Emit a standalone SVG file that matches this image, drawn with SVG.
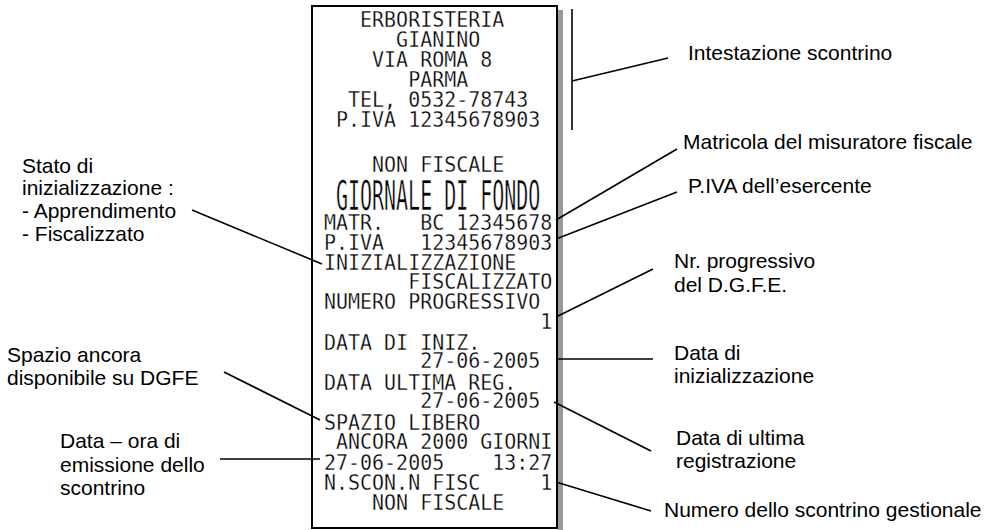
<svg xmlns="http://www.w3.org/2000/svg" width="998" height="530" viewBox="0 0 998 530">
<style>
.lbl{font-family:"Liberation Sans",Arial,sans-serif;font-size:21px;fill:#000}
.rc{font-family:"DejaVu Sans Mono","Liberation Mono",monospace;font-size:21px;fill:#000;white-space:pre;stroke:#fff;stroke-width:0.3}
.ln{stroke:#000;stroke-width:1.6;fill:none}
</style>
<rect width="998" height="530" fill="#fff"/>
<g id="receipt">
<rect x="558" y="10" width="5" height="522" fill="#999"/>
<rect x="312" y="6" width="245" height="522" fill="#fff" stroke="#000" stroke-width="2"/>
<g transform="translate(324,0) scale(0.951,1)">
<text class="rc" x="0" y="27">   ERBORISTERIA</text>
<text class="rc" x="0" y="47">      GIANINO</text>
<text class="rc" x="0" y="67">    VIA ROMA 8</text>
<text class="rc" x="0" y="87">       PARMA</text>
<text class="rc" x="0" y="107">  TEL, 0532-78743</text>
<text class="rc" x="0" y="127"> P.IVA 12345678903</text>
<text class="rc" x="0" y="172">    NON FISCALE</text>
<text class="rc" x="0" y="230">MATR.   BC 12345678</text>
<text class="rc" x="0" y="250">P.IVA   12345678903</text>
<text class="rc" x="0" y="270">INIZIALIZZAZIONE</text>
<text class="rc" x="0" y="289">       FISCALIZZATO</text>
<text class="rc" x="0" y="309">NUMERO PROGRESSIVO</text>
<text class="rc" x="0" y="329">                  1</text>
<text class="rc" x="0" y="350">DATA DI INIZ.</text>
<text class="rc" x="0" y="368">        27-06-2005</text>
<text class="rc" x="0" y="390">DATA ULTIMA REG.</text>
<text class="rc" x="0" y="408">        27-06-2005</text>
<text class="rc" x="0" y="430">SPAZIO LIBERO</text>
<text class="rc" x="0" y="449"> ANCORA 2000 GIORNI</text>
<text class="rc" x="0" y="470">27-06-2005    13:27</text>
<text class="rc" x="0" y="490">N.SCON.N FISC     1</text>
<text class="rc" x="0" y="510">    NON FISCALE</text>
</g>
<text class="rc" transform="translate(336,210) scale(0.951,1.95)" x="0" y="0">GIORNALE DI FONDO</text>
</g>
<g id="connectors">
<line class="ln" x1="572" y1="9" x2="572" y2="130"/>
<line class="ln" x1="572" y1="81" x2="668" y2="58"/>
<line class="ln" x1="556" y1="220" x2="677" y2="149"/>
<line class="ln" x1="556" y1="239" x2="677" y2="192"/>
<line class="ln" x1="556" y1="317" x2="653" y2="269"/>
<line class="ln" x1="556" y1="359" x2="653" y2="359"/>
<line class="ln" x1="554" y1="402" x2="651" y2="451"/>
<line class="ln" x1="556" y1="482" x2="651" y2="511"/>
<line class="ln" x1="192" y1="210" x2="322" y2="264"/>
<line class="ln" x1="224" y1="372" x2="320" y2="420"/>
<line class="ln" x1="220" y1="459" x2="320" y2="459"/>
</g>
<g id="lbl-intestazione"><text class="lbl" x="688" y="60">Intestazione scontrino</text></g>
<g id="lbl-matricola"><text class="lbl" x="683" y="149">Matricola del misuratore fiscale</text></g>
<g id="lbl-piva"><text class="lbl" x="688" y="193">P.IVA dell’esercente</text></g>
<g id="lbl-nr"><text class="lbl" x="674" y="268">Nr. progressivo</text><text class="lbl" x="674" y="292">del D.G.F.E.</text></g>
<g id="lbl-datainiz"><text class="lbl" x="674" y="360">Data di</text><text class="lbl" x="674" y="383">inizializzazione</text></g>
<g id="lbl-dataultima"><text class="lbl" x="676" y="445">Data di ultima</text><text class="lbl" x="676" y="468">registrazione</text></g>
<g id="lbl-numero"><text class="lbl" x="664" y="517">Numero dello scontrino gestionale</text></g>
<g id="lbl-stato"><text class="lbl" x="22" y="173">Stato di</text><text class="lbl" x="22" y="195">inizializzazione :</text><text class="lbl" x="22" y="218">- Apprendimento</text><text class="lbl" x="22" y="241">- Fiscalizzato</text></g>
<g id="lbl-spazio"><text class="lbl" x="7" y="362">Spazio ancora</text><text class="lbl" x="7" y="385">disponibile su DGFE</text></g>
<g id="lbl-dataora"><text class="lbl" x="60" y="448">Data – ora di</text><text class="lbl" x="60" y="472">emissione dello</text><text class="lbl" x="60" y="495">scontrino</text></g>
</svg>
